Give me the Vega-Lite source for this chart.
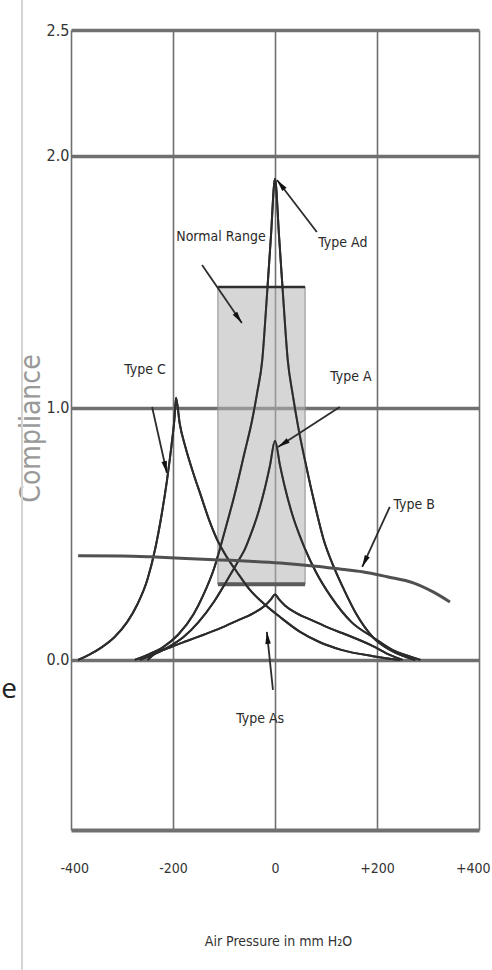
{
  "$schema": "https://vega.github.io/schema/vega-lite/v6.json",
  "width": 408,
  "height": 800,
  "autosize": {"type": "none"},
  "padding": {"left": 71, "top": 30, "right": 13, "bottom": 140},
  "background": "white",
  "config": {
    "view": {"stroke": null},
    "font": "'Liberation Sans Narrow', 'Arial Narrow', 'DejaVu Sans Condensed', sans-serif",
    "text": {"font": "'Liberation Sans Narrow', 'Arial Narrow', 'DejaVu Sans Condensed', sans-serif"}
  },
  "datasets": {
    "curves": [
      {"curve": "C", "p": -386, "c": 0.0},
      {"curve": "C", "p": -365, "c": 0.02},
      {"curve": "C", "p": -340, "c": 0.05},
      {"curve": "C", "p": -315, "c": 0.09},
      {"curve": "C", "p": -290, "c": 0.15},
      {"curve": "C", "p": -270, "c": 0.22},
      {"curve": "C", "p": -250, "c": 0.32},
      {"curve": "C", "p": -235, "c": 0.44},
      {"curve": "C", "p": -222, "c": 0.58},
      {"curve": "C", "p": -212, "c": 0.71},
      {"curve": "C", "p": -203, "c": 0.85},
      {"curve": "C", "p": -197, "c": 0.96},
      {"curve": "C", "p": -194, "c": 1.04},
      {"curve": "C", "p": -187, "c": 0.94},
      {"curve": "C", "p": -175, "c": 0.84},
      {"curve": "C", "p": -160, "c": 0.74},
      {"curve": "C", "p": -145, "c": 0.65},
      {"curve": "C", "p": -130, "c": 0.56},
      {"curve": "C", "p": -114, "c": 0.48},
      {"curve": "C", "p": -95, "c": 0.41},
      {"curve": "C", "p": -75, "c": 0.35},
      {"curve": "C", "p": -50, "c": 0.28},
      {"curve": "C", "p": -20, "c": 0.22},
      {"curve": "C", "p": 10, "c": 0.17},
      {"curve": "C", "p": 50, "c": 0.11},
      {"curve": "C", "p": 88, "c": 0.07},
      {"curve": "C", "p": 130, "c": 0.04},
      {"curve": "C", "p": 192, "c": 0.015},
      {"curve": "C", "p": 245, "c": 0.0},

      {"curve": "Ad", "p": -275, "c": 0.0},
      {"curve": "Ad", "p": -250, "c": 0.02},
      {"curve": "Ad", "p": -220, "c": 0.05},
      {"curve": "Ad", "p": -190, "c": 0.1},
      {"curve": "Ad", "p": -160, "c": 0.18},
      {"curve": "Ad", "p": -140, "c": 0.26},
      {"curve": "Ad", "p": -120, "c": 0.36},
      {"curve": "Ad", "p": -100, "c": 0.5},
      {"curve": "Ad", "p": -80, "c": 0.65},
      {"curve": "Ad", "p": -60, "c": 0.82},
      {"curve": "Ad", "p": -45, "c": 0.95},
      {"curve": "Ad", "p": -35, "c": 1.06},
      {"curve": "Ad", "p": -25, "c": 1.19},
      {"curve": "Ad", "p": -16, "c": 1.44},
      {"curve": "Ad", "p": -8, "c": 1.68},
      {"curve": "Ad", "p": 0, "c": 1.91},
      {"curve": "Ad", "p": 8, "c": 1.68},
      {"curve": "Ad", "p": 16, "c": 1.44},
      {"curve": "Ad", "p": 25, "c": 1.19},
      {"curve": "Ad", "p": 35, "c": 1.05},
      {"curve": "Ad", "p": 45, "c": 0.93},
      {"curve": "Ad", "p": 60, "c": 0.78},
      {"curve": "Ad", "p": 80, "c": 0.6},
      {"curve": "Ad", "p": 95, "c": 0.48},
      {"curve": "Ad", "p": 115, "c": 0.37},
      {"curve": "Ad", "p": 135, "c": 0.28},
      {"curve": "Ad", "p": 160, "c": 0.18},
      {"curve": "Ad", "p": 192, "c": 0.09},
      {"curve": "Ad", "p": 230, "c": 0.035},
      {"curve": "Ad", "p": 275, "c": 0.0},

      {"curve": "A", "p": -265, "c": 0.0},
      {"curve": "A", "p": -240, "c": 0.02},
      {"curve": "A", "p": -210, "c": 0.05},
      {"curve": "A", "p": -180, "c": 0.09},
      {"curve": "A", "p": -150, "c": 0.15},
      {"curve": "A", "p": -120, "c": 0.23},
      {"curve": "A", "p": -90, "c": 0.33},
      {"curve": "A", "p": -70, "c": 0.4},
      {"curve": "A", "p": -59, "c": 0.44},
      {"curve": "A", "p": -49, "c": 0.49},
      {"curve": "A", "p": -35, "c": 0.57},
      {"curve": "A", "p": -20, "c": 0.68},
      {"curve": "A", "p": -10, "c": 0.77},
      {"curve": "A", "p": 0, "c": 0.87},
      {"curve": "A", "p": 10, "c": 0.77},
      {"curve": "A", "p": 20, "c": 0.68},
      {"curve": "A", "p": 35, "c": 0.57},
      {"curve": "A", "p": 49, "c": 0.49},
      {"curve": "A", "p": 59, "c": 0.44},
      {"curve": "A", "p": 80, "c": 0.35},
      {"curve": "A", "p": 110, "c": 0.25},
      {"curve": "A", "p": 150, "c": 0.15},
      {"curve": "A", "p": 192, "c": 0.09},
      {"curve": "A", "p": 230, "c": 0.04},
      {"curve": "A", "p": 270, "c": 0.01},
      {"curve": "A", "p": 285, "c": 0.0},

      {"curve": "As", "p": -250, "c": 0.0},
      {"curve": "As", "p": -239, "c": 0.02},
      {"curve": "As", "p": -205, "c": 0.05},
      {"curve": "As", "p": -173, "c": 0.075},
      {"curve": "As", "p": -140, "c": 0.1},
      {"curve": "As", "p": -108, "c": 0.125},
      {"curve": "As", "p": -75, "c": 0.155},
      {"curve": "As", "p": -43, "c": 0.185},
      {"curve": "As", "p": -20, "c": 0.215},
      {"curve": "As", "p": -8, "c": 0.24},
      {"curve": "As", "p": 0, "c": 0.26},
      {"curve": "As", "p": 8, "c": 0.24},
      {"curve": "As", "p": 20, "c": 0.215},
      {"curve": "As", "p": 43, "c": 0.185},
      {"curve": "As", "p": 75, "c": 0.155},
      {"curve": "As", "p": 108, "c": 0.125},
      {"curve": "As", "p": 140, "c": 0.1},
      {"curve": "As", "p": 192, "c": 0.055},
      {"curve": "As", "p": 225, "c": 0.02},
      {"curve": "As", "p": 250, "c": 0.0}
    ],
    "typeB": [
      {"p": -386, "c": 0.413},
      {"p": -300, "c": 0.412},
      {"p": -245, "c": 0.409},
      {"p": -175, "c": 0.403},
      {"p": -108, "c": 0.397},
      {"p": -50, "c": 0.392},
      {"p": 10, "c": 0.385},
      {"p": 80, "c": 0.372},
      {"p": 130, "c": 0.36},
      {"p": 171, "c": 0.35},
      {"p": 220, "c": 0.33},
      {"p": 271, "c": 0.306},
      {"p": 310, "c": 0.27},
      {"p": 343, "c": 0.23}
    ],
    "arrows": [
      {"name": "Normal Range", "p": -143, "c": 1.567, "p2": -65, "c2": 1.337, "heading": 145},
      {"name": "Type Ad", "p": 82, "c": 1.698, "p2": 4, "c2": 1.905, "heading": 322},
      {"name": "Type A", "p": 127, "c": 1.004, "p2": 6, "c2": 0.845, "heading": 237},
      {"name": "Type B", "p": 225, "c": 0.607, "p2": 171, "c2": 0.369, "heading": 205},
      {"name": "Type C", "p": -241, "c": 1.004, "p2": -212, "c2": 0.742, "heading": 167},
      {"name": "Type As", "p": -4, "c": -0.119, "p2": -16, "c2": 0.111, "heading": 354}
    ],
    "labels": [
      {"label": "Normal Range", "p": -106, "c": 1.679},
      {"label": "Type Ad", "p": 133, "c": 1.655},
      {"label": "Type A", "p": 149, "c": 1.123},
      {"label": "Type B", "p": 273, "c": 0.615},
      {"label": "Type C", "p": -255, "c": 1.151},
      {"label": "Type As", "p": -29, "c": -0.234}
    ]
  },
  "layer": [
    {
      "data": {"name": "curves"},
      "mark": {"type": "line", "interpolate": "monotone", "color": "#2c2c2c", "strokeWidth": 2},
      "encoding": {
        "x": {
          "field": "p", "type": "quantitative",
          "scale": {"domain": [-400, 400], "nice": false, "zero": false},
          "axis": {
            "values": [-400, -200, 0, 200, 400],
            "labelExpr": "datum.value > 0 ? '+' + datum.value : '' + datum.value",
            "grid": true, "gridColor": "#707070", "gridWidth": 1.6,
            "domain": true, "domainColor": "#707070", "domainWidth": 4,
            "ticks": false, "tickSize": 0,
            "labelFlush": true, "labelFlushOffset": 11, "labelOverlap": false,
            "labelPadding": 38, "labelBaseline": "middle", "labelFontSize": 14, "labelColor": "#333",
            "labelFont": "'Liberation Sans Narrow', 'Arial Narrow', 'DejaVu Sans Condensed', sans-serif",
            "title": "Air Pressure in mm H₂O",
            "titleFont": "'Liberation Sans Narrow', 'Arial Narrow', 'DejaVu Sans Condensed', sans-serif",
            "titleFontSize": 14, "titleFontWeight": "normal", "titleColor": "#333",
            "titleX": 207, "titleY": 111, "titleBaseline": "middle", "titleAlign": "center"
          }
        },
        "y": {
          "field": "c", "type": "quantitative",
          "scale": {"domain": [-0.675, 2.5], "nice": false, "zero": false},
          "axis": {
            "values": [0, 1, 2, 2.5],
            "format": ".1f",
            "grid": true, "gridColor": "#707070", "gridWidth": 3.5,
            "domain": false, "ticks": false, "tickSize": 0,
            "labelFlush": false, "labelOverlap": false,
            "labelPadding": 2, "labelFontSize": 16, "labelColor": "#333",
            "labelFont": "'Liberation Sans Narrow', 'Arial Narrow', 'DejaVu Sans Condensed', sans-serif",
            "title": "Compliance",
            "titleFont": "'Liberation Sans Narrow', 'Arial Narrow', 'DejaVu Sans Condensed', sans-serif",
            "titleFontSize": 28, "titleFontWeight": "normal", "titleColor": "#999999",
            "titleX": -40, "titleY": 398, "titleAngle": 270, "titleBaseline": "middle", "titleAlign": "center"
          }
        },
        "detail": {"field": "curve"}
      }
    },
    {
      "data": {"values": [{"p": -496, "c": 2.62, "c2": -1.23}]},
      "mark": {"type": "rule", "color": "#d4d4d4", "strokeWidth": 2},
      "encoding": {
        "x": {"field": "p", "type": "quantitative"},
        "y": {"field": "c", "type": "quantitative"},
        "y2": {"field": "c2"}
      }
    },
    {
      "data": {"values": [{"p": -537, "c": -0.119, "t": "e"}]},
      "mark": {"type": "text", "align": "left", "baseline": "middle", "fontSize": 28, "font": "Open Sans", "color": "#222"},
      "encoding": {
        "x": {"field": "p", "type": "quantitative"},
        "y": {"field": "c", "type": "quantitative"},
        "text": {"field": "t"}
      }
    },
    {
      "data": {"values": [{"p": -112, "p2": 59, "c": 0.3, "c2": 1.48}]},
      "mark": {"type": "rect", "fill": "#b4b4b4", "fillOpacity": 0.55, "stroke": "#8e8e8e", "strokeWidth": 1},
      "encoding": {
        "x": {"field": "p", "type": "quantitative"},
        "x2": {"field": "p2"},
        "y": {"field": "c", "type": "quantitative"},
        "y2": {"field": "c2"}
      }
    },
    {
      "data": {"values": [
        {"p": -112, "p2": 59, "c": 1.48, "edge": "top"},
        {"p": -112, "p2": 59, "c": 0.3, "edge": "bottom"}
      ]},
      "mark": {"type": "rule"},
      "encoding": {
        "x": {"field": "p", "type": "quantitative"},
        "x2": {"field": "p2"},
        "y": {"field": "c", "type": "quantitative"},
        "strokeWidth": {"field": "edge", "type": "nominal", "scale": {"domain": ["top", "bottom"], "range": [2.5, 4]}, "legend": null},
        "color": {"field": "edge", "type": "nominal", "scale": {"domain": ["top", "bottom"], "range": ["#2e2e2e", "#5a5a5a"]}, "legend": null}
      }
    },
    {
      "data": {"name": "curves"},
      "mark": {"type": "line", "interpolate": "monotone", "color": "#2c2c2c", "strokeWidth": 2},
      "encoding": {
        "x": {"field": "p", "type": "quantitative"},
        "y": {"field": "c", "type": "quantitative"},
        "detail": {"field": "curve"}
      }
    },
    {
      "data": {"name": "typeB"},
      "mark": {"type": "line", "interpolate": "monotone", "color": "#505050", "strokeWidth": 3},
      "encoding": {
        "x": {"field": "p", "type": "quantitative"},
        "y": {"field": "c", "type": "quantitative"}
      }
    },
    {
      "data": {"name": "arrows"},
      "mark": {"type": "rule", "color": "#2c2c2c", "strokeWidth": 1.8},
      "encoding": {
        "x": {"field": "p", "type": "quantitative"},
        "y": {"field": "c", "type": "quantitative"},
        "x2": {"field": "p2"},
        "y2": {"field": "c2"}
      }
    },
    {
      "data": {"name": "arrows"},
      "mark": {"type": "point", "shape": "M0,0L-0.55,2.4L0.55,2.4Z", "filled": true, "color": "#111", "size": 100, "opacity": 1},
      "encoding": {
        "x": {"field": "p2", "type": "quantitative"},
        "y": {"field": "c2", "type": "quantitative"},
        "angle": {"field": "heading", "type": "quantitative", "scale": null}
      }
    },
    {
      "data": {"name": "labels"},
      "mark": {"type": "text", "fontSize": 14, "color": "#2a2a2a", "align": "center", "baseline": "middle"},
      "encoding": {
        "x": {"field": "p", "type": "quantitative"},
        "y": {"field": "c", "type": "quantitative"},
        "text": {"field": "label"}
      }
    }
  ]
}
